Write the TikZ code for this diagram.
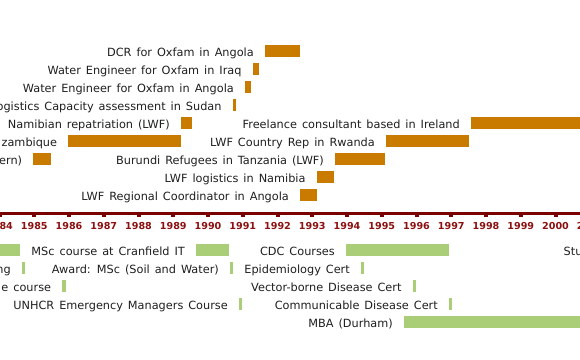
\documentclass[tikz,border=0pt]{standalone}
\usepackage{fontspec}
\setmainfont[WordSpace={1.38}]{DejaVu Sans}
\definecolor{jobbar}{RGB}{201,123,0}
\definecolor{edubar}{RGB}{170,206,120}
\definecolor{axisred}{RGB}{122,0,0}
\definecolor{yearred}{RGB}{140,16,16}
\tikzset{
  evlabel/.style={anchor=base east,inner sep=0pt,font=\fontsize{11.3}{13}\selectfont,text=black!88},
  evlabelw/.style={anchor=base west,inner sep=0pt,font=\fontsize{11.3}{13}\selectfont,text=black!88},
  yearlabel/.style={anchor=base,inner sep=0pt,font=\fontsize{9.6}{11}\selectfont\bfseries,text=yearred},
}
% \jobev{name}{x1}{x2}{ytop}{text}
\newcommand{\jobev}[5]{%
  \fill[jobbar] (#2,#4) rectangle (#3,#4+11.5);
  \node[evlabel] (#1) at (#2-11,#4+11) {#5};}
\newcommand{\eduev}[5]{%
  \fill[edubar] (#2,#4) rectangle (#3,#4+11.5);
  \node[evlabel] (#1) at (#2-11,#4+11) {#5};}
\begin{document}
\begin{tikzpicture}[x=1pt,y=-1pt]
\useasboundingbox (0,0) rectangle (580,359);
\fill[white] (0,0) rectangle (580,359);
% job events
\jobev{j1}{265}{300}{45}{DCR for Oxfam in Angola}
\jobev{j2}{252.7}{259.3}{63}{Water Engineer for Oxfam in Iraq}
\jobev{j3}{245}{251}{81}{Water Engineer for Oxfam in Angola}
\jobev{j4}{232.7}{236}{99}{ogistics Capacity assessment in Sudan}
\jobev{j5}{181}{191.7}{117}{Namibian repatriation (LWF)}
\jobev{j6}{471}{581}{117}{Freelance consultant based in Ireland}
\jobev{j7}{68.3}{181}{135}{zambique}
\jobev{j8}{386}{469}{135}{LWF Country Rep in Rwanda}
\jobev{j9}{33.3}{50.7}{153}{ern)}
\jobev{j10}{335}{385}{153}{Burundi Refugees in Tanzania (LWF)}
\jobev{j11}{316.7}{334}{171}{LWF logistics in Namibia}
\jobev{j12}{300}{316.7}{189}{LWF Regional Coordinator in Angola}
% axis
\fill[axisred] (0,211.5) rectangle (580,215);
\foreach \y [count=\i] in {1984,...,2001}{
  \pgfmathsetmacro{\xx}{34.3+(\y-1985)*34.75}
  \fill[axisred] (\xx-2,215) rectangle (\xx+2,217);
  \node[yearlabel] (y\i) at (\xx,229.3) {\y};
}
% education events
\fill[edubar] (-1,244.3) rectangle (20,255.8);
\eduev{e1}{196}{229}{244.3}{MSc course at Cranfield IT}
\eduev{e2}{346}{449}{244.3}{CDC Courses}
\node[evlabelw] (e3) at (563.5,255.3) {Stu};
\eduev{e4}{22}{25}{262.3}{ng}
\eduev{e5}{230}{232.7}{262.3}{Award: MSc (Soil and Water)}
\eduev{e6}{361}{364}{262.3}{Epidemiology Cert}
\eduev{e7}{62.3}{65.7}{280.3}{e course}
\eduev{e8}{412.7}{416}{280.3}{Vector-borne Disease Cert}
\eduev{e9}{239}{241.7}{298}{UNHCR Emergency Managers Course}
\eduev{e10}{449}{452}{298}{Communicable Disease Cert}
\eduev{e11}{404}{581}{316}{MBA (Durham)}
\end{tikzpicture}
\end{document}
